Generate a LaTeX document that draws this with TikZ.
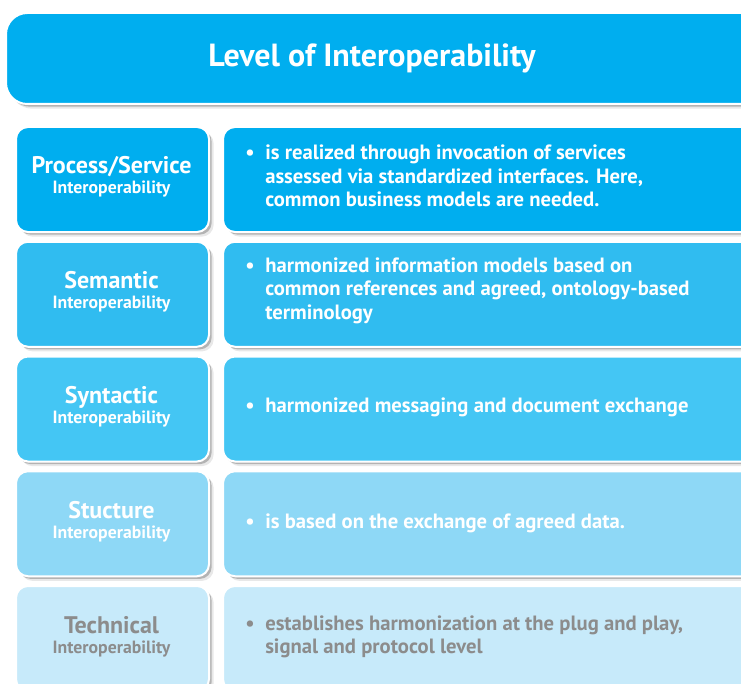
\documentclass[tikz,border=0pt]{standalone}
\usepackage{fontspec}
\setmainfont{PT Sans}
\usetikzlibrary{shadows}

\definecolor{levelone}{RGB}{0,174,239}
\definecolor{leveltwo}{RGB}{48,188,240}
\definecolor{levelthree}{RGB}{68,198,244}
\definecolor{levelfour}{RGB}{142,216,246}
\definecolor{levelfive}{RGB}{199,234,250}
\definecolor{greytext}{RGB}{140,140,140}

\tikzset{
  levelbox/.style={draw=white,line width=1.5pt,rounded corners=9pt,anchor=north west,
    drop shadow={shadow xshift=3.5pt,shadow yshift=-3.5pt,opacity=0.18},
    drop shadow={shadow xshift=2pt,shadow yshift=-2pt,opacity=0.5}},
  namebox/.style={levelbox,minimum width=193*0.75pt,minimum height=105*0.75pt},
  textbox/.style={levelbox,minimum width=540*0.75pt,minimum height=105*0.75pt},
  bigname/.style={font=\fontsize{18}{20}\selectfont\bfseries},
  smallname/.style={font=\fontsize{13.3}{15}\selectfont\bfseries},
  bullettext/.style={anchor=west,align=left,inner sep=0pt,font=\fontsize{15.5}{17.6}\selectfont\bfseries}
}

\begin{document}
\begin{tikzpicture}[x=0.75pt,y=-0.75pt]
  % Picture frame, same size as the reference.
  \useasboundingbox (0,0) rectangle (741,684);
  \clip (0,0) rectangle (741,684);
  \fill[white] (0,0) rectangle (741,684);

  % Layout parameters (pixels).
  \def\rowtop{126}     %top of first row.
  \def\rowstep{114.75} %distance between rows.
  \def\namex{15}       %left edge of the name boxes.
  \def\textx{222}      %left edge of the text boxes.

  % Title
  \node[levelbox,rounded corners=16pt,fill=levelone,minimum width=760*0.75pt,minimum height=91*0.75pt] (title) at (5,12) {};
  \node[text=white,font=\fontsize{24}{28}\selectfont\bfseries,anchor=base] (titletext) at (372,67) {Level of Interoperability};

  % Rows: index/colour/text colour/name
  \foreach \i/\col/\tcol/\name in {0/levelone/white/{Process/Service},1/leveltwo/white/Semantic,2/levelthree/white/Syntactic,3/levelfour/white/Stucture,4/levelfive/greytext/Technical}{
    \node[namebox,fill=\col] (name\i) at (\namex,{\rowtop+\i*\rowstep}) {};
    \node[textbox,fill=\col] (box\i) at (\textx,{\rowtop+\i*\rowstep}) {};
    \node[bigname,text=\tcol,anchor=base] (label\i) at (111.5,{\rowtop+\i*\rowstep+48}) {\name};
    \node[smallname,text=\tcol,anchor=base] (sublabel\i) at (111.5,{\rowtop+\i*\rowstep+68}) {Interoperability};
  }

  % Bullet texts
  \node[bullettext,text=white] (text0) at (265,176) {\llap{\textbullet\hspace{8pt}}is realized through invocation of services\\assessed via standardized interfaces. Here,\\common business models are needed.};
  \node[bullettext,text=white] (text1) at (265,290.5) {\llap{\textbullet\hspace{8pt}}harmonized information models based on\\common references and agreed, ontology-based\\terminology};
  \node[bullettext,text=white] (text2) at (265,407) {\llap{\textbullet\hspace{8pt}}harmonized messaging and document exchange};
  \node[bullettext,text=white] (text3) at (265,523) {\llap{\textbullet\hspace{8pt}}is based on the exchange of agreed data.};
  \node[bullettext,text=greytext] (text4) at (265,637) {\llap{\textbullet\hspace{8pt}}establishes harmonization at the plug and play,\\signal and protocol level};
\end{tikzpicture}
\end{document}
